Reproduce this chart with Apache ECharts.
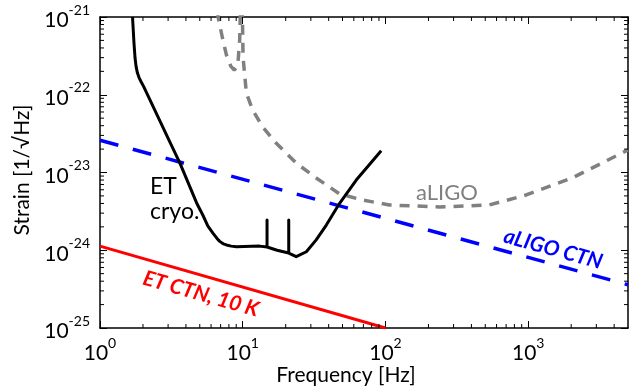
<!DOCTYPE html>
<html>
<head>
<meta charset="utf-8">
<script src="https://cdn.jsdelivr.net/npm/echarts@6/dist/echarts.min.js"></script>
<style>
html,body{margin:0;padding:0;background:#fff;}
#chart{width:630px;height:390px;}
</style>
</head>
<body>
<div id="chart"></div>
<script>
// ---- data (frequency in Hz, strain in 1/sqrt(Hz)) ----
const etCryoFreq = [1.69, 1.71, 1.73, 1.76, 1.79, 1.83, 1.88, 1.94, 2.02, 2.99, 3.63, 4.8, 5.25, 5.7, 6.2, 6.6, 6.9, 7.3, 7.69, 8.3, 9.03, 13.1, 14.8, 14.8, 14.8, 17.4, 21.0, 21.0, 21.0, 23.7, 27.9, 32.7, 38.5, 47.7, 62.4, 93.3];
const etCryoStrain = [1e-21, 6.8e-22, 4.63e-22, 2.97e-22, 2.3e-22, 1.9e-22, 1.65e-22, 1.47e-22, 1.28e-22, 2.78e-23, 1.32e-23, 3.9e-24, 2.84e-24, 2.05e-24, 1.65e-24, 1.42e-24, 1.3e-24, 1.21e-24, 1.17e-24, 1.13e-24, 1.11e-24, 1.13e-24, 1.10e-24, 2.45e-24, 1.10e-24, 1.0e-24, 9.2e-25, 2.45e-24, 9.2e-25, 8.26e-25, 9.57e-25, 1.36e-24, 2.11e-24, 4.02e-24, 8.0e-24, 1.9e-23];

const aligoFreq = [6.5, 6.72, 7.21, 7.69, 8.24, 8.72, 9.22, 9.52, 9.75, 9.95, 10.05, 10.6, 11.74, 13.8, 17.1, 23.7, 32.7, 47.7, 70, 106.6, 239, 533, 968, 2031, 5000];
const aligoStrain = [2e-21, 1e-21, 5.37e-22, 3.24e-22, 2.34e-22, 2.08e-22, 2.34e-22, 5.06e-22, 3e-21, 1e-21, 3.06e-22, 1.05e-22, 6.37e-23, 3.85e-23, 2.4e-23, 1.32e-23, 8.5e-24, 5.3e-24, 4.4e-24, 3.82e-24, 3.6e-24, 3.82e-24, 5.14e-24, 8.5e-24, 1.95e-23];

const aligoCtnFreq = [1, 5000];
const aligoCtnStrain = [2.6e-23, 3.6e-25];

const etCtnFreq = [1, 100];
const etCtnStrain = [1.13e-24, 1.0e-25];

const xMinorTicks = [2,3,4,5,6,7,8,9,20,30,40,50,60,70,80,90,200,300,400,500,600,700,800,900,2000,3000,4000];
const yMinorTicks = [2e-25,3e-25,4e-25,5e-25,6e-25,7e-25,8e-25,9e-25,2e-24,3e-24,4e-24,5e-24,6e-24,7e-24,8e-24,9e-24,2e-23,3e-23,4e-23,5e-23,6e-23,7e-23,8e-23,9e-23,2e-22,3e-22,4e-22,5e-22,6e-22,7e-22,8e-22,9e-22];

const X_MIN = 1, X_MAX = 5000;
const Y_MIN = 1e-25, Y_MAX = 1e-21;
// strain plotted in units of 1e-25 to keep log-axis tick values well-conditioned
const S = 1e25;
const pairs = (fx, sy) => fx.map((f, i) => [f, sy[i] * S]);

const FONT = 'Lato, "Open Sans", sans-serif';

function isPow10(v) { const l = Math.log10(v); return Math.abs(l - Math.round(l)) < 1e-6; }

const richLbl = {
  b: { fontSize: 21, fontFamily: FONT, color: '#000', padding: [7, 0, 0, 0], verticalAlign: 'bottom' },
  s: { fontSize: 14, fontFamily: FONT, color: '#000', verticalAlign: 'top' }
};

function minorTickSeries(vals, axis) {
  return {
    type: 'custom', coordinateSystem: 'cartesian2d', xAxisIndex: 0, yAxisIndex: 0,
    silent: true, clip: false, z: 5,
    data: vals.map(v => axis === 'x' ? [v, Y_MIN * S] : [X_MIN, v * S]),
    renderItem: function (params, api) {
      const cs = params.coordSys;
      const p = api.coord([api.value(0), api.value(1)]);
      const L = 4;
      let lines;
      if (axis === 'x') {
        lines = [[p[0], cs.y + cs.height, p[0], cs.y + cs.height - L], [p[0], cs.y, p[0], cs.y + L]];
      } else {
        lines = [[cs.x, p[1], cs.x + L, p[1]], [cs.x + cs.width, p[1], cs.x + cs.width - L, p[1]]];
      }
      return {
        type: 'group',
        children: lines.map(l => ({
          type: 'line', shape: { x1: l[0], y1: l[1], x2: l[2], y2: l[3] },
          style: { stroke: '#000', lineWidth: 1 }
        }))
      };
    }
  };
}

const axisLineStyle = { lineStyle: { color: '#000', width: 1.5 } };

const option = {
  animation: false,
  backgroundColor: '#fff',
  grid: { left: 100, right: 2, top: 17, bottom: 62, containLabel: false },
  xAxis: [
    {
      type: 'log', logBase: 10, min: X_MIN, max: X_MAX,
      axisLine: axisLineStyle, splitLine: { show: false },
      axisTick: { inside: true, length: 7, lineStyle: { color: '#000', width: 1 } },
      axisLabel: {
        margin: 8, showMaxLabel: false,
        formatter: v => isPow10(v) ? '{b|10}{s|' + Math.round(Math.log10(v)) + '}' : '',
        rich: richLbl
      }
    },
    {
      type: 'log', logBase: 10, min: X_MIN, max: X_MAX, position: 'top',
      axisLine: axisLineStyle, splitLine: { show: false },
      axisTick: { inside: true, length: 7, lineStyle: { color: '#000', width: 1 } },
      axisLabel: { show: false }
    }
  ],
  yAxis: [
    {
      type: 'log', logBase: 10, min: Y_MIN * S, max: Y_MAX * S,
      axisLine: axisLineStyle, splitLine: { show: false },
      axisTick: { inside: true, length: 7, lineStyle: { color: '#000', width: 1 } },
      axisLabel: {
        margin: 10,
        formatter: v => isPow10(v) ? '{b|10}{s|' + (Math.round(Math.log10(v)) - 25) + '}' : '',
        rich: richLbl
      }
    },
    {
      type: 'log', logBase: 10, min: Y_MIN * S, max: Y_MAX * S, position: 'right',
      axisLine: axisLineStyle, splitLine: { show: false },
      axisTick: { inside: true, length: 7, lineStyle: { color: '#000', width: 1 } },
      axisLabel: { show: false }
    }
  ],
  series: [
    {
      name: 'aLIGO', type: 'line', data: pairs(aligoFreq, aligoStrain), showSymbol: false, clip: true,
      lineStyle: { color: '#808080', width: 3.5, type: [10, 8] }, z: 2
    },
    {
      name: 'aLIGO CTN', type: 'line', data: pairs(aligoCtnFreq, aligoCtnStrain), showSymbol: false, clip: true,
      lineStyle: { color: '#0000ff', width: 3.5, type: [19, 15] }, z: 3
    },
    {
      name: 'ET CTN, 10 K', type: 'line', data: pairs(etCtnFreq, etCtnStrain), showSymbol: false, clip: true,
      lineStyle: { color: '#ff0000', width: 3 }, z: 3
    },
    {
      name: 'ET cryo.', type: 'line', data: pairs(etCryoFreq, etCryoStrain), showSymbol: false, clip: true,
      lineStyle: { color: '#000', width: 3, join: 'round' }, z: 4
    },
    minorTickSeries(xMinorTicks, 'x'),
    minorTickSeries(yMinorTicks, 'y')
  ],
  graphic: [
    { type: 'text', x: 346, y: 375, style: { text: 'Frequency [Hz]', font: '21px ' + FONT, fill: '#000', align: 'center', verticalAlign: 'middle' } },
    { type: 'text', x: 22, y: 170, rotation: Math.PI / 2, style: { text: 'Strain [1/√Hz]', font: '21px ' + FONT, fill: '#000', align: 'center', verticalAlign: 'middle' } },
    { type: 'text', x: 150, y: 187, style: { text: 'ET', font: '23px ' + FONT, fill: '#000', align: 'left', verticalAlign: 'middle' } },
    { type: 'text', x: 150, y: 212, style: { text: 'cryo.', font: '23px ' + FONT, fill: '#000', align: 'left', verticalAlign: 'middle' } },
    { type: 'text', x: 447, y: 193, style: { text: 'aLIGO', font: '22px ' + FONT, fill: '#808080', align: 'center', verticalAlign: 'middle' } },
    { type: 'text', x: 553, y: 249, rotation: -0.27, style: { text: 'aLIGO CTN', font: 'italic bold 21px ' + FONT, fill: '#0000ff', align: 'center', verticalAlign: 'middle' } },
    { type: 'text', x: 201, y: 294, rotation: -0.275, style: { text: 'ET CTN, 10 K', font: 'italic bold 21px ' + FONT, fill: '#ff0000', align: 'center', verticalAlign: 'middle' } }
  ]
};

const chart = echarts.init(document.getElementById('chart'), null, { renderer: 'canvas' });
chart.setOption(option);
</script>
</body>
</html>
